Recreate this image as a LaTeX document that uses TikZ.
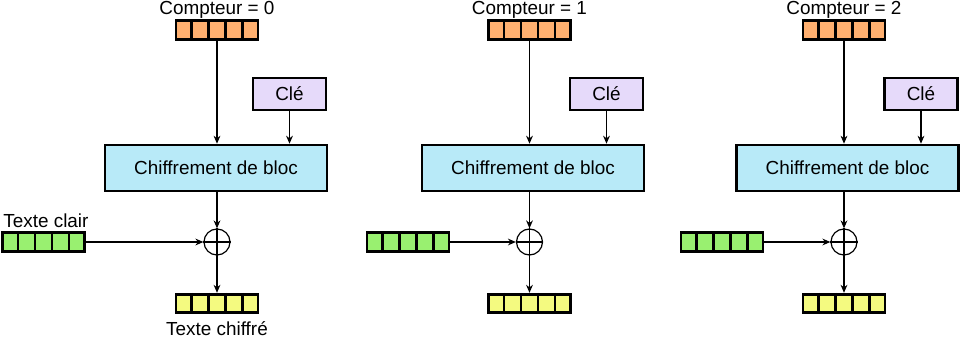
\documentclass[tikz,border=0pt]{standalone}
\usepackage{fontspec}
\setmainfont{Liberation Sans}
\usetikzlibrary{arrows.meta,calc}
\newcommand\lblfont{\fontsize{9.45}{11}\selectfont}
\definecolor{regorange}{HTML}{FFB070}
\definecolor{reggreen}{HTML}{99F070}
\definecolor{regyellow}{HTML}{F4FA80}
\definecolor{keyviolet}{HTML}{E6DAFA}
\definecolor{cipherblue}{HTML}{B8EAF8}
\newcommand\celldividers[1]{%
  \foreach \f in {0.2,0.4,0.6,0.8}
    \draw[line width=1.3pt] ($(#1.north west)!\f!(#1.north east)$) -- ($(#1.south west)!\f!(#1.south east)$);}
\begin{document}
\begin{tikzpicture}[x=0.5pt,y=-0.5pt,
  reg/.style={draw,line width=1.4pt,minimum width=41pt,minimum height=9.3pt,inner sep=0pt},
  box/.style={draw,line width=1.3pt,inner sep=0pt,font=\lblfont},
  conn/.style={line width=0.6pt,-{Stealth[length=4pt,width=3.4pt]}},
  lbl/.style={font=\lblfont,inner sep=0pt},
  xorop/.style={draw,circle,minimum size=13pt,inner sep=0pt,line width=0.6pt}]
\useasboundingbox (0,0) rectangle (960,337);
\foreach \vx/\n/\px/\ec/\kc in {217/0/43.5/216/289.5,529.5/1/408/533/606.5,844/2/722/847.5/921}{
  % counter register
  \node[reg,fill=regorange] (c\n) at (\vx,30) {};
  \celldividers{c\n}
  \node[lbl,anchor=base] (t\n) at (\vx,14.5) {Compteur = \n};
  % key
  \node[box,fill=keyviolet,minimum width=36.5pt,minimum height=16pt] (k\n) at (\kc,94) {Clé};
  % block cipher
  \node[box,fill=cipherblue,minimum width=111pt,minimum height=23pt] (e\n) at (\ec,168) {Chiffrement de bloc};
  % xor
  \node[xorop] (x\n) at (\vx,242) {};
  \draw[line width=0.6pt] (x\n.north) -- (x\n.south) (x\n.west) -- (x\n.east);
  % plaintext
  \node[reg,fill=reggreen] (p\n) at (\px,242) {};
  \celldividers{p\n}
  % ciphertext
  \node[reg,fill=regyellow] (o\n) at (\vx,303.5) {};
  \celldividers{o\n}
  % connectors
  \draw[conn] (c\n.south) -- (c\n.south |- e\n.north);
  \draw[conn] (k\n.south) -- (k\n.south |- e\n.north);
  \draw[conn] (e\n.south -| x\n.north) -- (x\n.north);
  \draw[conn] (p\n.east) -- (x\n.west);
  \draw[conn] (x\n.south) -- (o\n.north);
}
\node[lbl,anchor=base west] (tc) at (3,227) {Texte clair};
\node[lbl,anchor=base] (tx) at (217,335) {Texte chiffré};
\end{tikzpicture}
\end{document}
